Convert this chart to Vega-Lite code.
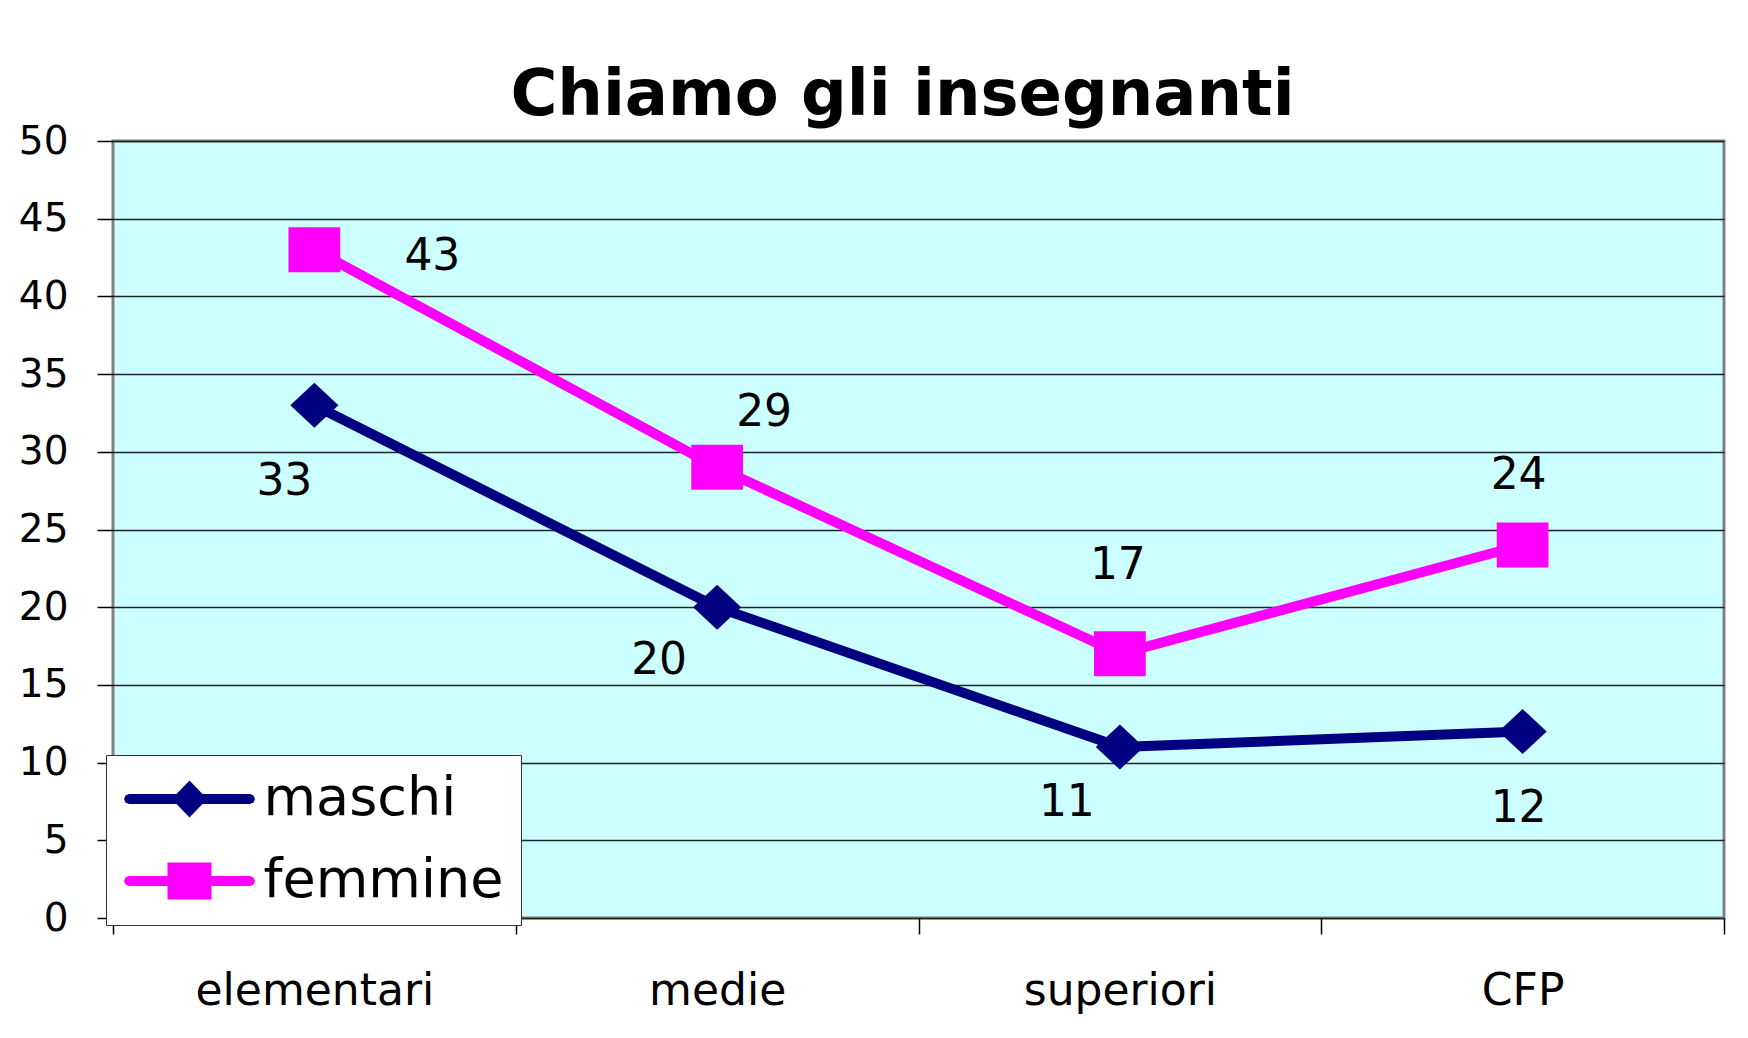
{
  "$schema": "https://vega.github.io/schema/vega-lite/v6.json",
  "width": 1611,
  "height": 777,
  "autosize": "none",
  "padding": {"left": 113, "top": 141, "right": 24, "bottom": 120},
  "background": "white",
  "config": {
    "font": "DejaVu Sans",
    "view": {"fill": "#CCFFFF", "stroke": "#808080", "strokeWidth": 3}
  },
  "title": {
    "text": "Chiamo gli insegnanti",
    "font": "DejaVu Sans",
    "fontSize": 64,
    "fontWeight": "bold",
    "color": "black",
    "anchor": "middle",
    "offset": -6,
    "dx": -16
  },
  "data": {
    "values": [
      {"level": "elementari", "series": "maschi", "value": 33},
      {"level": "medie", "series": "maschi", "value": 20},
      {"level": "superiori", "series": "maschi", "value": 11},
      {"level": "CFP", "series": "maschi", "value": 12},
      {"level": "elementari", "series": "femmine", "value": 43},
      {"level": "medie", "series": "femmine", "value": 29},
      {"level": "superiori", "series": "femmine", "value": 17},
      {"level": "CFP", "series": "femmine", "value": 24}
    ]
  },
  "encoding": {
    "x": {
      "field": "level",
      "type": "nominal",
      "sort": ["elementari", "medie", "superiori", "CFP"],
      "scale": {"type": "band", "paddingInner": 0, "paddingOuter": 0},
      "axis": {
        "title": null,
        "labelAngle": 0,
        "labelFont": "DejaVu Sans",
        "labelFontSize": 44,
        "labelColor": "black",
        "labelBaseline": "alphabetic",
        "labelPadding": 70,
        "labelLimit": 600,
        "tickBand": "extent",
        "tickSize": 16,
        "tickColor": "black",
        "tickWidth": 1.5,
        "domain": false,
        "grid": false
      }
    },
    "y": {
      "field": "value",
      "type": "quantitative",
      "scale": {"domain": [0, 50], "nice": false},
      "axis": {
        "title": null,
        "values": [0, 5, 10, 15, 20, 25, 30, 35, 40, 45, 50],
        "labelFont": "DejaVu Sans",
        "labelFontSize": 39,
        "labelColor": "black",
        "labelPadding": 29,
        "tickSize": 16,
        "tickColor": "black",
        "tickWidth": 1.5,
        "domain": false,
        "grid": true,
        "gridColor": "#222222",
        "gridWidth": 1.3
      }
    }
  },
  "layer": [
    {
      "mark": {"type": "line", "strokeWidth": 10, "strokeJoin": "round"},
      "encoding": {
        "color": {
          "field": "series",
          "type": "nominal",
          "scale": {"domain": ["maschi", "femmine"], "range": ["#000080", "#FF00FF"]},
          "legend": {
            "title": null,
            "orient": "none",
            "legendX": -7,
            "legendY": 614,
            "padding": 17,
            "fillColor": "white",
            "strokeColor": "#333333",
            "symbolSize": 400,
            "symbolOffset": 39.5,
            "labelOffset": 47,
            "labelLimit": 600,
            "labelFont": "DejaVu Sans",
            "labelFontSize": 54,
            "labelColor": "black",
            "rowPadding": 28,
            "encode": {
              "symbols": {
                "update": {
                  "shape": {"signal": "datum.value == 'maschi' ? 'M-6.05,-0.5L-1.3,-0.5L0,-1.85L1.3,-0.5L6.05,-0.5L6.4,-0.35L6.55,0L6.4,0.35L6.05,0.5L1.3,0.5L0,1.85L-1.3,0.5L-6.05,0.5L-6.4,0.35L-6.55,0L-6.4,-0.35Z' : 'M-6.05,-0.5L-2.2,-0.5L-2.2,-1.85L2.2,-1.85L2.2,-0.5L6.05,-0.5L6.4,-0.35L6.55,0L6.4,0.35L6.05,0.5L2.2,0.5L2.2,1.85L-2.2,1.85L-2.2,0.5L-6.05,0.5L-6.4,0.35L-6.55,0L-6.4,-0.35Z'"},
                  "fill": {"signal": "datum.value == 'maschi' ? '#000080' : '#FF00FF'"},
                  "stroke": {"value": "transparent"},
                  "strokeWidth": {"value": 0},
                  "opacity": {"value": 1},
                  "fillOpacity": {"value": 1}
                }
              }
            }
          }
        }
      }
    },
    {
      "transform": [{"filter": "datum.series == 'maschi'"}],
      "mark": {"type": "point", "filled": true, "size": 2025, "opacity": 1, "color": "#000080", "shape": "M-1.07,0L0,-1L1.07,0L0,1Z"}
    },
    {
      "transform": [{"filter": "datum.series == 'femmine'"}],
      "mark": {"type": "point", "filled": true, "size": 2025, "opacity": 1, "color": "#FF00FF", "shape": "M-1.15,-1L1.15,-1L1.15,1L-1.15,1Z"}
    },
    {
      "transform": [{"filter": "datum.series == 'femmine' && datum.level == 'elementari'"}],
      "mark": {"type": "text", "fontSize": 44, "font": "DejaVu Sans", "color": "black", "align": "center", "baseline": "alphabetic", "dx": 118, "dy": 20},
      "encoding": {"text": {"field": "value", "type": "quantitative"}}
    },
    {
      "transform": [{"filter": "datum.series == 'maschi' && datum.level == 'elementari'"}],
      "mark": {"type": "text", "fontSize": 44, "font": "DejaVu Sans", "color": "black", "align": "center", "baseline": "alphabetic", "dx": -30, "dy": 90},
      "encoding": {"text": {"field": "value", "type": "quantitative"}}
    },
    {
      "transform": [{"filter": "datum.series == 'femmine' && datum.level == 'medie'"}],
      "mark": {"type": "text", "fontSize": 44, "font": "DejaVu Sans", "color": "black", "align": "center", "baseline": "alphabetic", "dx": 47, "dy": -41},
      "encoding": {"text": {"field": "value", "type": "quantitative"}}
    },
    {
      "transform": [{"filter": "datum.series == 'maschi' && datum.level == 'medie'"}],
      "mark": {"type": "text", "fontSize": 44, "font": "DejaVu Sans", "color": "black", "align": "center", "baseline": "alphabetic", "dx": -58, "dy": 67},
      "encoding": {"text": {"field": "value", "type": "quantitative"}}
    },
    {
      "transform": [{"filter": "datum.series == 'femmine' && datum.level == 'superiori'"}],
      "mark": {"type": "text", "fontSize": 44, "font": "DejaVu Sans", "color": "black", "align": "center", "baseline": "alphabetic", "dx": -2, "dy": -75},
      "encoding": {"text": {"field": "value", "type": "quantitative"}}
    },
    {
      "transform": [{"filter": "datum.series == 'maschi' && datum.level == 'superiori'"}],
      "mark": {"type": "text", "fontSize": 44, "font": "DejaVu Sans", "color": "black", "align": "center", "baseline": "alphabetic", "dx": -53, "dy": 69},
      "encoding": {"text": {"field": "value", "type": "quantitative"}}
    },
    {
      "transform": [{"filter": "datum.series == 'femmine' && datum.level == 'CFP'"}],
      "mark": {"type": "text", "fontSize": 44, "font": "DejaVu Sans", "color": "black", "align": "center", "baseline": "alphabetic", "dx": -4, "dy": -56},
      "encoding": {"text": {"field": "value", "type": "quantitative"}}
    },
    {
      "transform": [{"filter": "datum.series == 'maschi' && datum.level == 'CFP'"}],
      "mark": {"type": "text", "fontSize": 44, "font": "DejaVu Sans", "color": "black", "align": "center", "baseline": "alphabetic", "dx": -4, "dy": 90},
      "encoding": {"text": {"field": "value", "type": "quantitative"}}
    }
  ]
}
